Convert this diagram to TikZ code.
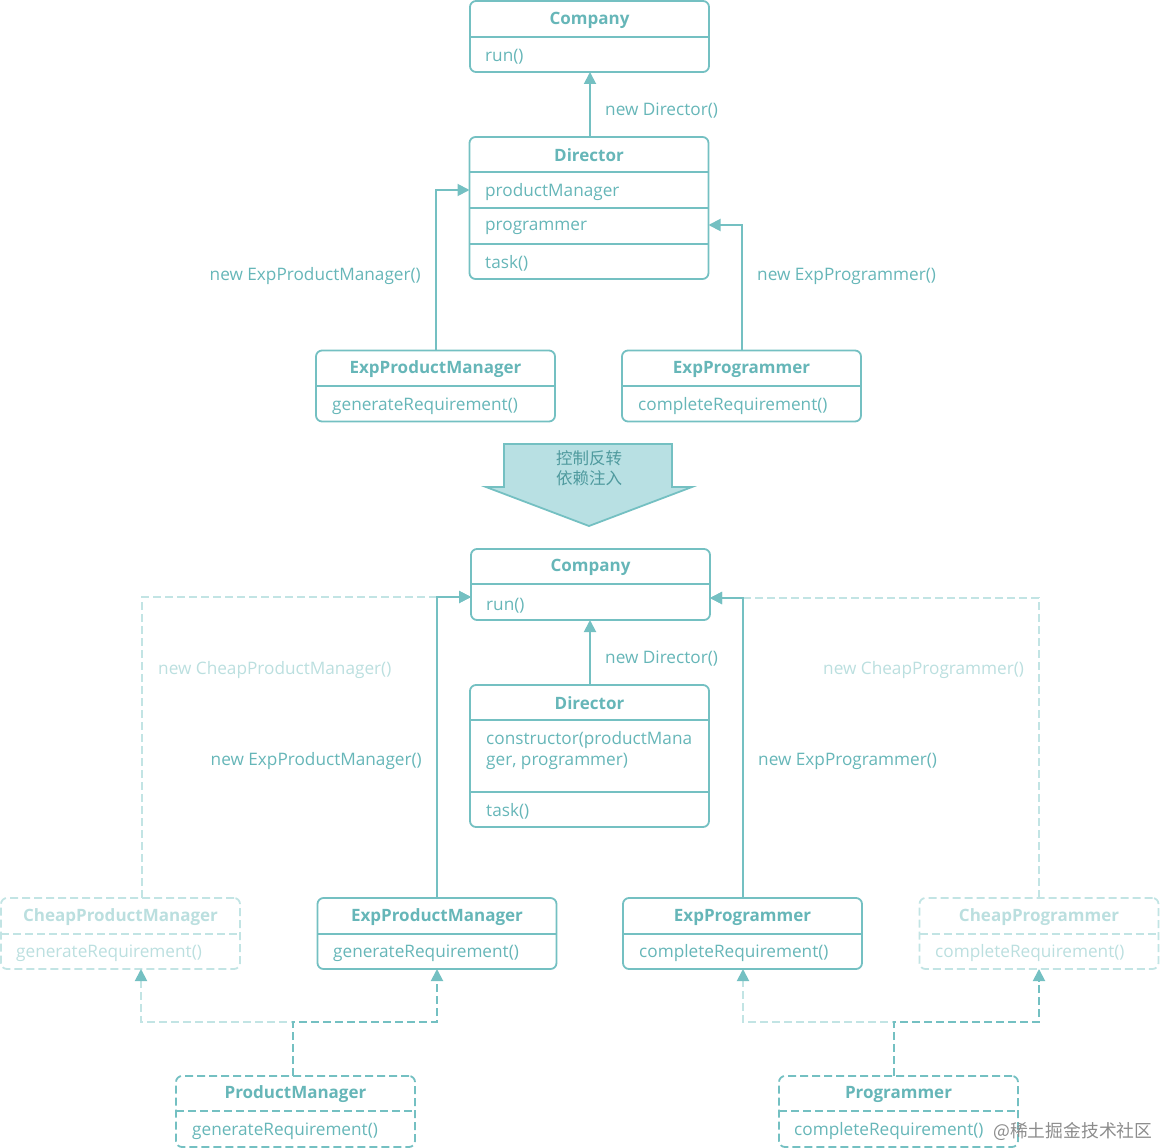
\documentclass[tikz,border=0pt]{standalone}
\usepackage{fontspec}
\setmainfont{Open Sans}
\newfontfamily\cjk{Noto Sans CJK SC}
\usetikzlibrary{arrows.meta}
\definecolor{tl}{HTML}{74C0C2}
\definecolor{tt}{HTML}{66B6B8}
\definecolor{lt}{HTML}{C2E4E4}
\definecolor{ltt}{HTML}{BBDFDF}
\definecolor{af}{HTML}{B8E0E3}
\definecolor{at}{HTML}{4F9A9E}
\definecolor{wm}{HTML}{8C8C8C}
\begin{document}
\begin{tikzpicture}[x=1pt,y=-1pt,
  box/.style={draw=tl, line width=1.8pt, rounded corners=6pt, minimum width=239pt, minimum height=71pt, inner sep=0pt, outer sep=0pt},
  dbox/.style={box, dash pattern=on 8pt off 4pt},
  lbox/.style={box, draw=lt, dash pattern=on 8pt off 4pt},
  div/.style={draw=tl, line width=1.8pt},
  ddiv/.style={div, dash pattern=on 8pt off 4pt},
  ldiv/.style={div, draw=lt, dash pattern=on 8pt off 4pt},
  ttl/.style={text=tt, font=\fontsize{17}{20}\selectfont\bfseries, inner sep=0pt},
  ltl/.style={ttl, text=ltt},
  txt/.style={text=tt, font=\fontsize{17.2}{21}\selectfont, inner sep=0pt, anchor=west, align=left},
  ltxt/.style={txt, text=ltt},
  conn/.style={draw=tl, line width=1.9pt, -{Triangle[length=12pt,width=12pt,color=tl,fill=tl]}},
  dconn/.style={conn, dash pattern=on 8pt off 4pt},
  lconn/.style={conn, draw=lt, dash pattern=on 8pt off 4pt}
]
\useasboundingbox (0,0) rectangle (1160,1148);

% ---------- top part ----------
\node[box] (c1) at (589.5,36.5) {};
\draw[div] (c1.west |- 0,37) -- (c1.east |- 0,37);
\node[ttl] (c1t) at (589.5,20) {Company};
\node[txt] (c1a) at (485,57) {run()};

\node[box, minimum height=142pt] (d1) at (589,208) {};
\draw[div] (d1.west |- 0,172) -- (d1.east |- 0,172);
\draw[div] (d1.west |- 0,208) -- (d1.east |- 0,208);
\draw[div] (d1.west |- 0,244) -- (d1.east |- 0,244);
\node[ttl] (d1t) at (589,155) {Director};
\node[txt] (d1a) at (485,192) {productManager};
\node[txt] (d1b) at (485,228) {programmer};
\node[txt] (d1c) at (485,263) {task()};

\node[box] (epm1) at (435.5,386) {};
\draw[div] (epm1.west |- 0,386) -- (epm1.east |- 0,386);
\node[ttl] (epm1t) at (435.5,369) {ExpProductManager};
\node[txt] (epm1a) at (332,406) {generateRequirement()};

\node[box] (ep1) at (741.5,386) {};
\draw[div] (ep1.west |- 0,386) -- (ep1.east |- 0,386);
\node[ttl] (ep1t) at (741.5,369) {ExpProgrammer};
\node[txt] (ep1a) at (638,406) {completeRequirement()};

\draw[conn] (d1.north -| 590,0) -- (c1.south -| 590,0);
\node[txt] (l1) at (605,111) {new Director()};
\draw[conn] (epm1.north -| 436,0) |- (d1.west |- 0,190);
\node[txt, anchor=east] (l2) at (421,276) {new ExpProductManager()};
\draw[conn] (ep1.north -| 742,0) |- (d1.east |- 0,225);
\node[txt] (l3) at (757,276) {new ExpProgrammer()};

% ---------- big arrow ----------
\draw[draw=tl, fill=af, line width=1.8pt, line join=miter]
  (504,444) -- (672,444) -- (672,487) -- (692,487) -- (589,526) -- (486,487) -- (504,487) -- cycle;
\node[text=at, font=\cjk\fontsize{16.5}{20}\selectfont, inner sep=0pt] (bt1) at (589,458) {控制反转};
\node[text=at, font=\cjk\fontsize{16.5}{20}\selectfont, inner sep=0pt] (bt2) at (589,478) {依赖注入};

% ---------- bottom part ----------
\node[box] (c2) at (590.5,584.5) {};
\draw[div] (c2.west |- 0,584) -- (c2.east |- 0,584);
\node[ttl] (c2t) at (590.5,567) {Company};
\node[txt] (c2a) at (486,606) {run()};

\node[box, minimum height=142pt] (d2) at (589.5,756) {};
\draw[div] (d2.west |- 0,720) -- (d2.east |- 0,720);
\draw[div] (d2.west |- 0,792) -- (d2.east |- 0,792);
\node[ttl] (d2t) at (589.5,703) {Director};
\node[txt] (d2a) at (486,750.5) {constructor(productMana\\ger, programmer)};
\node[txt] (d2c) at (486,811) {task()};

\node[box] (epm2) at (437,933.5) {};
\draw[div] (epm2.west |- 0,934) -- (epm2.east |- 0,934);
\node[ttl] (epm2t) at (437,917) {ExpProductManager};
\node[txt] (epm2a) at (333,953) {generateRequirement()};

\node[box] (ep2) at (742.5,933.5) {};
\draw[div] (ep2.west |- 0,934) -- (ep2.east |- 0,934);
\node[ttl] (ep2t) at (742.5,917) {ExpProgrammer};
\node[txt] (ep2a) at (639,953) {completeRequirement()};

\node[lbox] (cpm) at (120.5,933.5) {};
\draw[ldiv] (cpm.west |- 0,934) -- (cpm.east |- 0,934);
\node[ltl] (cpmt) at (120.5,917) {CheapProductManager};
\node[ltxt] (cpma) at (16,953) {generateRequirement()};

\node[lbox] (cp) at (1039,933.5) {};
\draw[ldiv] (cp.west |- 0,934) -- (cp.east |- 0,934);
\node[ltl] (cpt) at (1039,917) {CheapProgrammer};
\node[ltxt] (cpa) at (935,953) {completeRequirement()};

\node[dbox] (pm) at (295.5,1111.5) {};
\draw[ddiv] (pm.west |- 0,1111) -- (pm.east |- 0,1111);
\node[ttl] (pmt) at (295.5,1094) {ProductManager};
\node[txt] (pma) at (192,1131) {generateRequirement()};

\node[dbox] (pg) at (898.5,1111.5) {};
\draw[ddiv] (pg.west |- 0,1111) -- (pg.east |- 0,1111);
\node[ttl] (pgt) at (898.5,1094) {Programmer};
\node[txt] (pga) at (794,1131) {completeRequirement()};

% connectors to Company
\draw[conn] (d2.north -| 590,0) -- (c2.south -| 590,0);
\node[txt] (l4) at (605,659) {new Director()};

\draw[lconn] (cpm.north -| 142,0) |- (c2.west |- 0,597);
\draw[conn] (epm2.north) |- (c2.west |- 0,597);
\node[ltxt] (l5) at (158,670) {new CheapProductManager()};
\node[txt, anchor=east] (l6) at (422,761) {new ExpProductManager()};

\draw[lconn] (cp.north) |- (c2.east |- 0,598);
\draw[conn] (ep2.north -| 743,0) |- (c2.east |- 0,598);
\node[ltxt] (l7) at (823,670) {new CheapProgrammer()};
\node[txt] (l8) at (758,761) {new ExpProgrammer()};

% interface connectors
\draw[lconn] (pm.north -| 293,0) -- (293,1022) -| (cpm.south -| 141,0);
\draw[dconn] (pm.north -| 293,0) -- (293,1022) -| (epm2.south);
\draw[lconn] (pg.north -| 894,0) -- (894,1022) -| (ep2.south -| 743,0);
\draw[dconn] (pg.north -| 894,0) -- (894,1022) -| (cp.south);

% watermark
\node[text=wm, font=\cjk\fontsize{17.8}{20}\selectfont, inner sep=0pt, anchor=west] (wmk) at (993,1131) {@稀土掘金技术社区};
\end{tikzpicture}
\end{document}
